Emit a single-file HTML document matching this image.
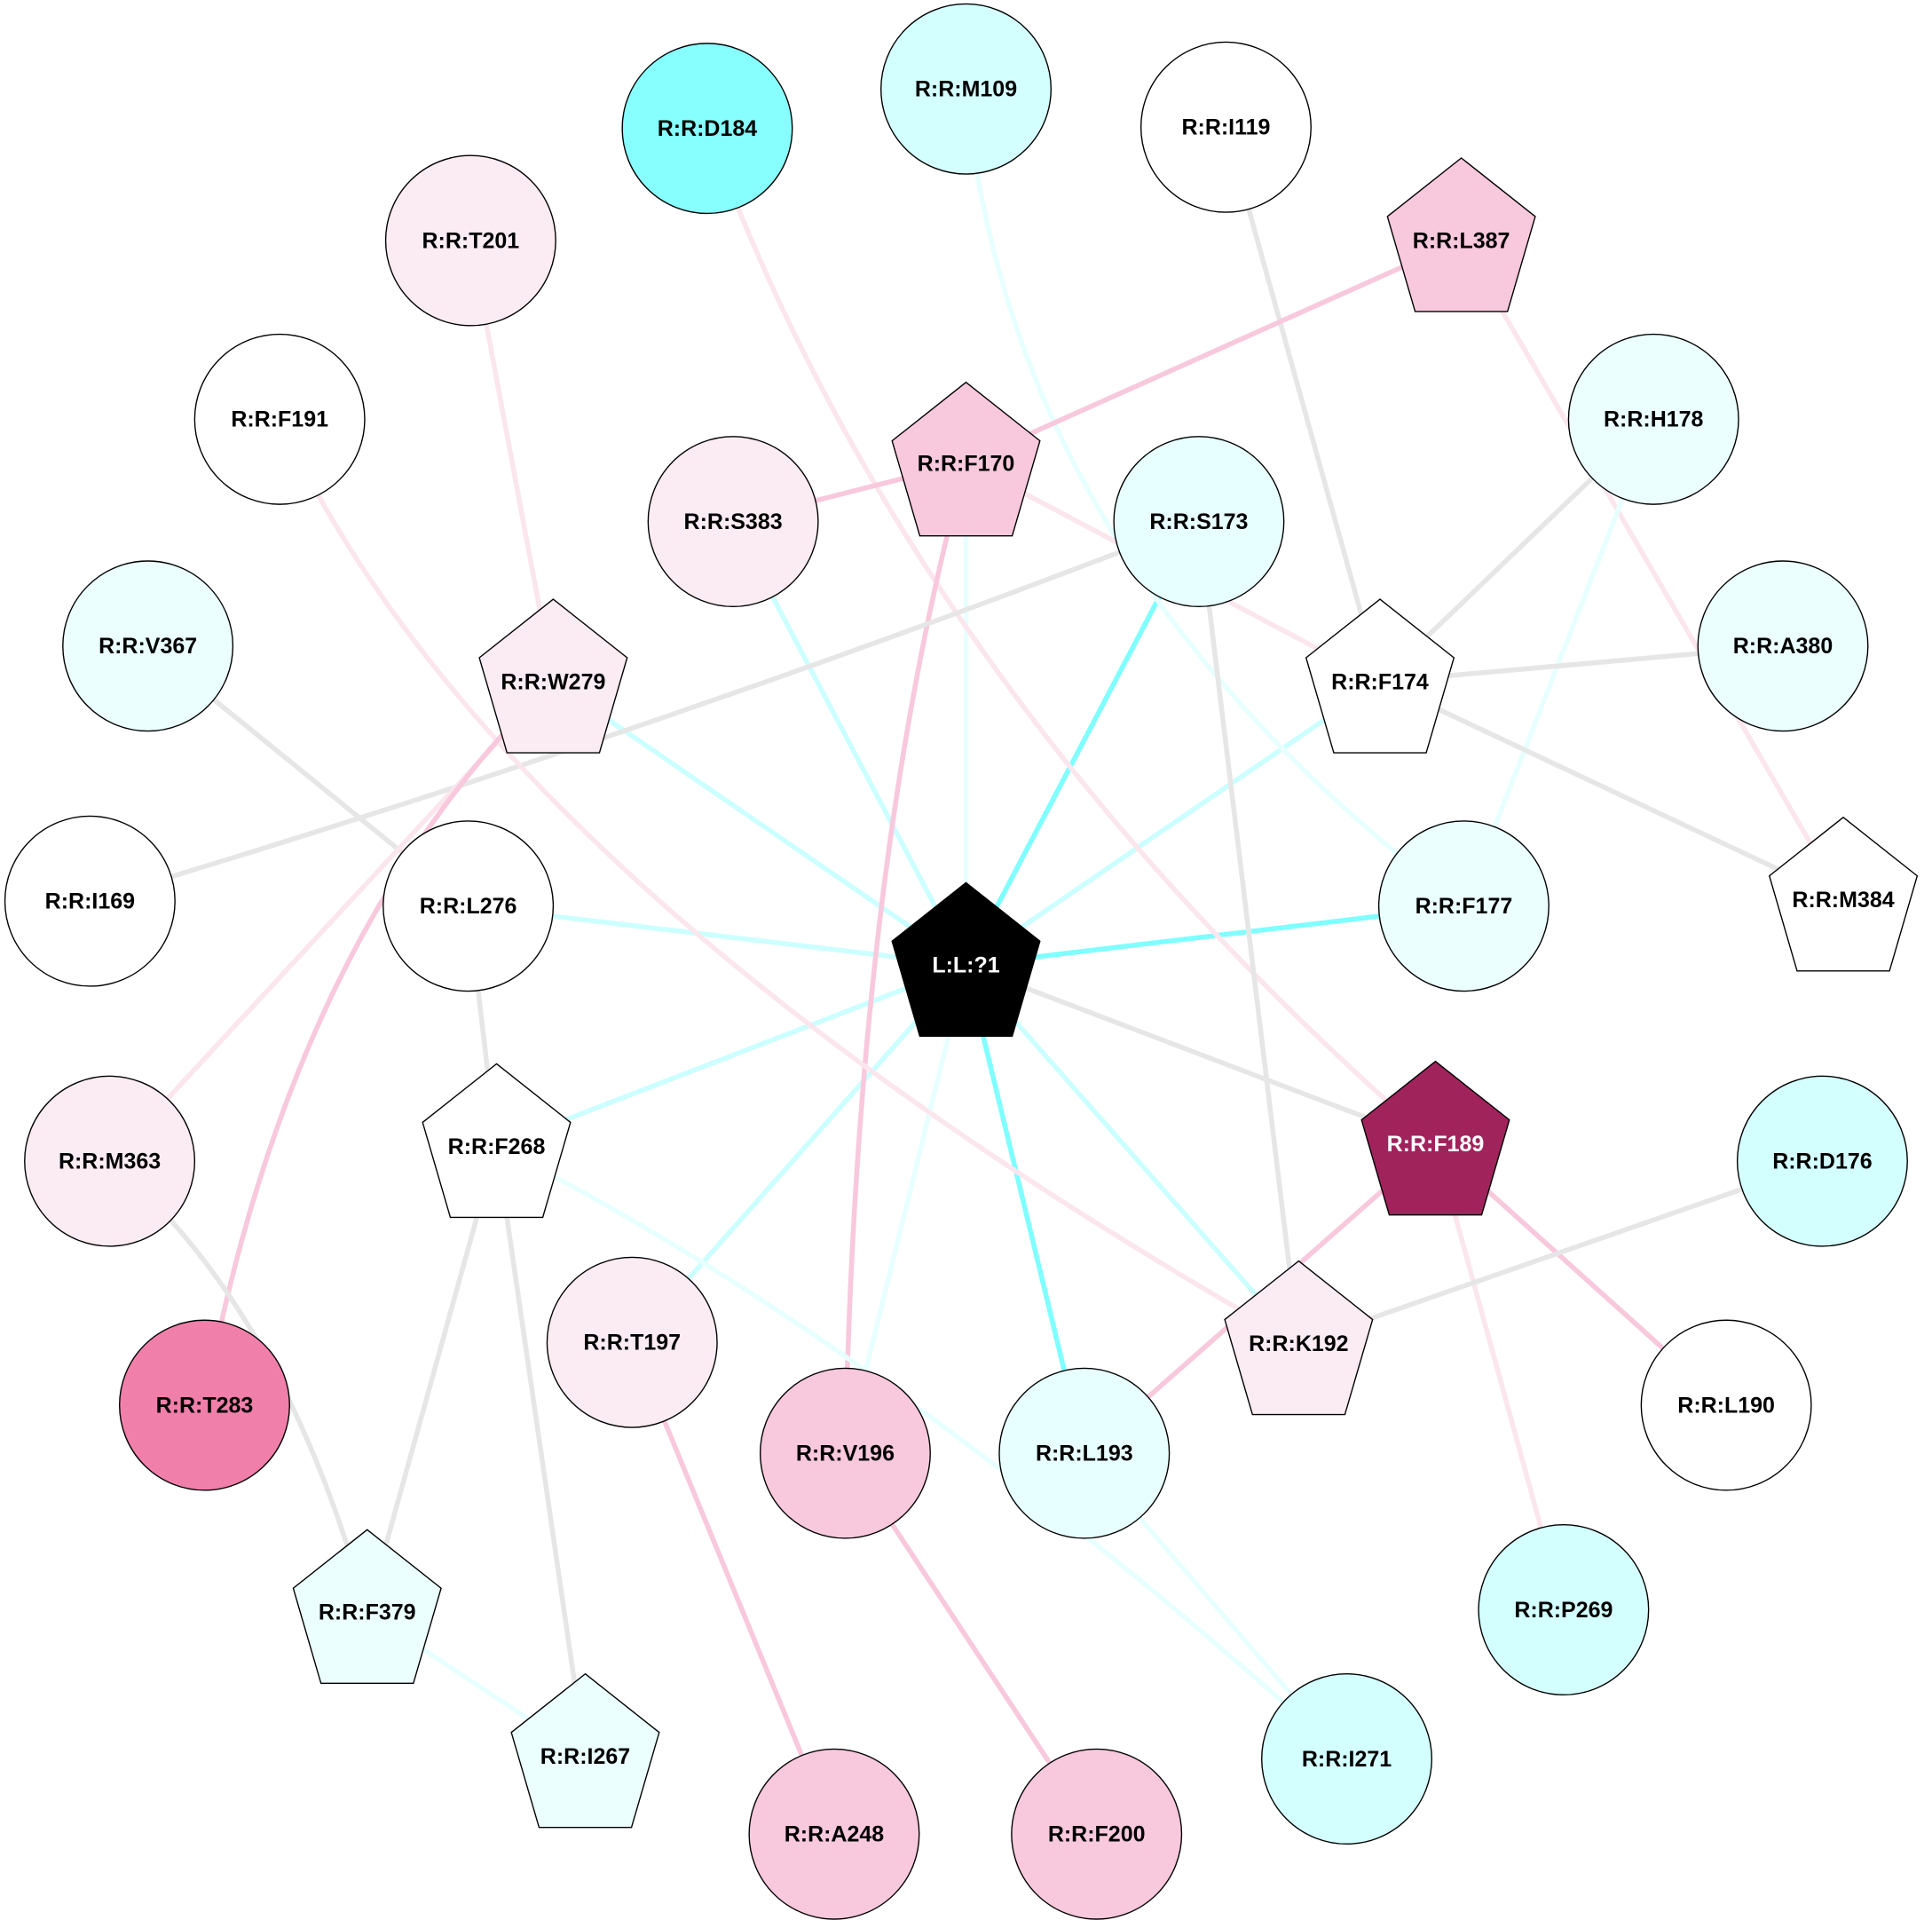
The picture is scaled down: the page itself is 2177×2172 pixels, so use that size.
<!DOCTYPE html>
<html><head><meta charset="utf-8"><style>html,body{margin:0;padding:0;background:#fff}svg{display:block}</style></head><body>
<svg xmlns="http://www.w3.org/2000/svg" width="2177" height="2172" viewBox="0 0 1568 1564">
<defs>
<symbol id="p" overflow="visible"><polygon points="0,-67 60,-19.5 37.5,57.6 -37.5,57.6 -60,-19.5"/></symbol>
</defs>
<g fill="none" stroke-width="4" stroke-linecap="butt">
<!-- ligand edges -->
<line x1="784" y1="783" x2="595" y2="423" stroke="#ccffff"/>
<line x1="784" y1="783" x2="784" y2="377" stroke="#e8ffff"/>
<line x1="784" y1="783" x2="973" y2="423" stroke="#7fffff"/>
<line x1="784" y1="783" x2="1120" y2="553" stroke="#ccffff"/>
<line x1="784" y1="783" x2="1188" y2="735" stroke="#7fffff"/>
<line x1="784" y1="783" x2="1165" y2="928" stroke="#e6e6e6"/>
<line x1="784" y1="783" x2="1054" y2="1090" stroke="#ccffff"/>
<line x1="784" y1="783" x2="880" y2="1179" stroke="#7fffff"/>
<line x1="784" y1="783" x2="686" y2="1179" stroke="#e8ffff"/>
<line x1="784" y1="783" x2="513" y2="1089" stroke="#ccffff"/>
<line x1="784" y1="783" x2="403" y2="930" stroke="#ccffff"/>
<line x1="784" y1="783" x2="380" y2="735" stroke="#ccffff"/>
<line x1="784" y1="783" x2="449" y2="553" stroke="#ccffff"/>
<!-- others -->
<path d="M574,104 Q740,560 1165,928" stroke="#fbe6ee"/>
<path d="M784,72 Q820,460 1188,735" stroke="#e8ffff"/>
<line x1="995" y1="103" x2="1120" y2="553" stroke="#e6e6e6"/>
<line x1="1186" y1="195" x2="784" y2="375" stroke="#f8c8dc"/>
<line x1="595" y1="423" x2="784" y2="375" stroke="#f8c8dc"/>
<line x1="1186" y1="195" x2="1496" y2="730" stroke="#fbe6ee"/>
<line x1="1342" y1="340" x2="1120" y2="553" stroke="#e6e6e6"/>
<line x1="1342" y1="340" x2="1188" y2="735" stroke="#e8ffff"/>
<line x1="1447" y1="524" x2="1120" y2="553" stroke="#e6e6e6"/>
<line x1="1120" y1="553" x2="1496" y2="730" stroke="#e6e6e6"/>
<line x1="784" y1="375" x2="1120" y2="553" stroke="#fbe6ee"/>
<path d="M784,375 Q695,700 686,1179" stroke="#f8c8dc"/>
<path d="M973,423 Q530,595 73,731" stroke="#e6e6e6"/>
<line x1="973" y1="423" x2="1054" y2="1090" stroke="#e6e6e6"/>
<line x1="382" y1="195" x2="449" y2="553" stroke="#fbe6ee"/>
<path d="M227,340 Q400,720 1054,1090" stroke="#fbe6ee"/>
<line x1="120" y1="524" x2="380" y2="735" stroke="#e6e6e6"/>
<line x1="449" y1="553" x2="89" y2="942" stroke="#fbe6ee"/>
<path d="M449,553 Q235,760 166,1140" stroke="#f8c8dc"/>
<line x1="380" y1="735" x2="403" y2="930" stroke="#e6e6e6"/>
<line x1="403" y1="930" x2="298" y2="1308" stroke="#e6e6e6"/>
<line x1="403" y1="930" x2="475" y2="1425" stroke="#e6e6e6"/>
<path d="M403,930 Q720,1090 1093,1427" stroke="#e8ffff"/>
<path d="M89,942 Q230,1060 298,1308" stroke="#e6e6e6"/>
<line x1="298" y1="1308" x2="475" y2="1425" stroke="#e8ffff"/>
<line x1="1165" y1="928" x2="880" y2="1179" stroke="#f8c8dc"/>
<line x1="1165" y1="928" x2="1401" y2="1140" stroke="#f8c8dc"/>
<line x1="1165" y1="928" x2="1269" y2="1306" stroke="#fbe6ee"/>
<line x1="1479" y1="942" x2="1054" y2="1090" stroke="#e6e6e6"/>
<line x1="513" y1="1089" x2="677" y2="1488" stroke="#f8c8dc"/>
<line x1="686" y1="1179" x2="890" y2="1488" stroke="#f8c8dc"/>
<line x1="880" y1="1179" x2="1093" y2="1427" stroke="#e8ffff"/>
</g>
<g stroke="#000" stroke-width="1" font-family="Liberation Sans, sans-serif" font-weight="bold" font-size="18" text-anchor="middle">
<circle cx="574" cy="104" r="69" fill="#88ffff"/>
<circle cx="784" cy="72" r="69" fill="#d4ffff"/>
<circle cx="995" cy="103" r="69" fill="#fff"/>
<circle cx="382" cy="195" r="69" fill="#fbebf2"/>
<circle cx="227" cy="340" r="69" fill="#fff"/>
<circle cx="1342" cy="340" r="69" fill="#ebffff"/>
<circle cx="595" cy="423" r="69" fill="#fbebf2"/>
<circle cx="973" cy="423" r="69" fill="#e8ffff"/>
<circle cx="120" cy="524" r="69" fill="#ebffff"/>
<circle cx="1447" cy="524" r="69" fill="#ebffff"/>
<circle cx="73" cy="731" r="69" fill="#fff"/>
<circle cx="380" cy="735" r="69" fill="#fff"/>
<circle cx="1188" cy="735" r="69" fill="#ebffff"/>
<circle cx="89" cy="942" r="69" fill="#fbebf2"/>
<circle cx="1479" cy="942" r="69" fill="#d4ffff"/>
<circle cx="513" cy="1089" r="69" fill="#fbebf2"/>
<circle cx="166" cy="1140" r="69" fill="#f07faa"/>
<circle cx="686" cy="1179" r="69" fill="#f8c8dc"/>
<circle cx="880" cy="1179" r="69" fill="#e8ffff"/>
<circle cx="1401" cy="1140" r="69" fill="#fff"/>
<circle cx="1269" cy="1306" r="69" fill="#d4ffff"/>
<circle cx="1093" cy="1427" r="69" fill="#d4ffff"/>
<circle cx="677" cy="1488" r="69" fill="#f8c8dc"/>
<circle cx="890" cy="1488" r="69" fill="#f8c8dc"/>
<use href="#p" x="1186" y="195" fill="#f8c8dc"/>
<use href="#p" x="784" y="377" fill="#f8c8dc"/>
<use href="#p" x="449" y="553" fill="#fbebf2"/>
<use href="#p" x="1120" y="553" fill="#fff"/>
<use href="#p" x="784" y="783" fill="#000"/>
<use href="#p" x="1496" y="730" fill="#fff"/>
<use href="#p" x="403" y="930" fill="#fff"/>
<use href="#p" x="1165" y="928" fill="#a0235c"/>
<use href="#p" x="1054" y="1090" fill="#fbebf2"/>
<use href="#p" x="298" y="1308" fill="#ebffff"/>
<use href="#p" x="475" y="1425" fill="#ebffff"/>
<g stroke="none" fill="#000">
<text x="574" y="110">R:R:D184</text>
<text x="784" y="78">R:R:M109</text>
<text x="995" y="109">R:R:I119</text>
<text x="382" y="201">R:R:T201</text>
<text x="1186" y="201">R:R:L387</text>
<text x="227" y="346">R:R:F191</text>
<text x="1342" y="346">R:R:H178</text>
<text x="784" y="382">R:R:F170</text>
<text x="595" y="429">R:R:S383</text>
<text x="973" y="429">R:R:S173</text>
<text x="120" y="530">R:R:V367</text>
<text x="449" y="559">R:R:W279</text>
<text x="1120" y="559">R:R:F174</text>
<text x="1447" y="530">R:R:A380</text>
<text x="73" y="737">R:R:I169</text>
<text x="380" y="741">R:R:L276</text>
<text x="784" y="789" fill="#fff">L:L:?1</text>
<text x="1188" y="741">R:R:F177</text>
<text x="1496" y="736">R:R:M384</text>
<text x="89" y="948">R:R:M363</text>
<text x="403" y="936">R:R:F268</text>
<text x="1165" y="934" fill="#fff">R:R:F189</text>
<text x="1479" y="948">R:R:D176</text>
<text x="513" y="1095">R:R:T197</text>
<text x="1054" y="1096">R:R:K192</text>
<text x="166" y="1146">R:R:T283</text>
<text x="686" y="1185">R:R:V196</text>
<text x="880" y="1185">R:R:L193</text>
<text x="1401" y="1146">R:R:L190</text>
<text x="1269" y="1312">R:R:P269</text>
<text x="298" y="1314">R:R:F379</text>
<text x="475" y="1431">R:R:I267</text>
<text x="1093" y="1433">R:R:I271</text>
<text x="677" y="1494">R:R:A248</text>
<text x="890" y="1494">R:R:F200</text>
</g>
</g>
</svg>
</body></html>
